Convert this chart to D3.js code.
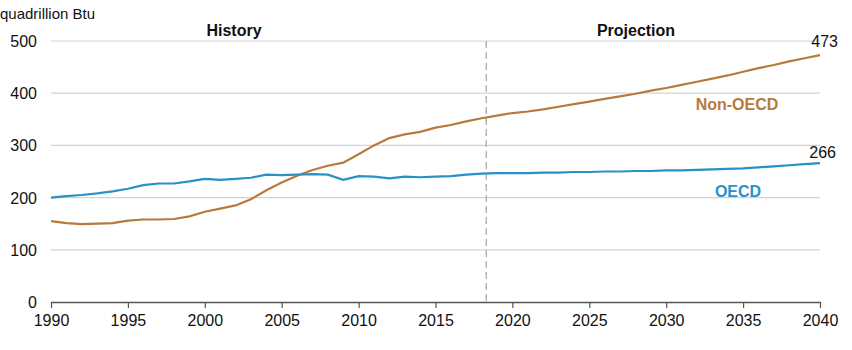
<!DOCTYPE html>
<html><head><meta charset="utf-8">
<script src="https://cdn.jsdelivr.net/npm/d3@7/dist/d3.min.js"></script>
<style>body{margin:0;background:#fff}text{font-family:"Liberation Sans",Arial,sans-serif}</style>
</head><body><svg id="c" width="852" height="350"></svg>
<script>
const years = d3.range(1990, 2041);
const oecd = [200,203,205,208,212,217,224,227,227,231,236,234,236,238,244,243,244,245,244,234,241,240,237,240,239,240,241,244,246,247,247,247,248,248,249,249,250,250,251,251,252,252,253,254,255,256,258,260,262,264,266];
const nonOecd = [155,151,149,150,151,156,158,158,159,164,173,179,185,197,214,229,242,253,261,267,283,300,314,321,326,334,339,346,352,357,362,365,369,374,379,384,389,394,399,405,410,416,422,428,434,441,448,454,461,467,473];
const yTicks = [0,100,200,300,400,500];
const xTicks = d3.range(1990, 2041, 5);
const divider = 2018.3;

const svg = d3.select("#c");
const L=51,R=820,T=41,B=302;
const x = d3.scaleLinear().domain([1990,2040]).range([L,R]);
const y = d3.scaleLinear().domain([0,500]).range([B,T]);

svg.append("g").selectAll("line").data(yTicks.filter(d=>d>0)).join("line")
  .attr("x1",L).attr("x2",R).attr("y1",d=>y(d)).attr("y2",d=>y(d))
  .attr("stroke","#d3d3d3").attr("stroke-width",1.2);

svg.append("g").selectAll("text").data(yTicks).join("text")
  .attr("x",37).attr("y",d=>y(d)+6).attr("text-anchor","end")
  .attr("font-size",16).attr("fill","#111").text(d=>d);

const xa = svg.append("g").attr("transform",`translate(0,${B})`)
  .call(d3.axisBottom(x).tickValues(xTicks).tickFormat(d3.format("d")).tickSize(6).tickSizeOuter(0).tickPadding(7));
xa.select(".domain").attr("stroke","#555").attr("stroke-width",1.5);
xa.selectAll(".tick line").attr("stroke","#555").attr("stroke-width",1.2);
xa.selectAll(".tick text").attr("font-size",16).attr("fill","#111").attr("font-family","Liberation Sans, Arial, sans-serif");

svg.append("line").attr("x1",x(divider)).attr("x2",x(divider)).attr("y1",T).attr("y2",B)
  .attr("stroke","#aaa").attr("stroke-width",1.3).attr("stroke-dasharray","7,4");

const line = d3.line().x((d,i)=>x(years[i])).y(d=>y(d));
svg.append("path").datum(nonOecd).attr("d",line).attr("fill","none").attr("stroke","#b87a3c").attr("stroke-width",2.2);
svg.append("path").datum(oecd).attr("d",line).attr("fill","none").attr("stroke","#2792c7").attr("stroke-width",2.2);

svg.append("text").attr("x",0).attr("y",19).attr("font-size",15).attr("fill","#111").text("quadrillion Btu");
svg.append("text").attr("x",234).attr("y",36).attr("text-anchor","middle").attr("font-size",16).attr("font-weight","bold").attr("fill","#111").text("History");
svg.append("text").attr("x",636).attr("y",36).attr("text-anchor","middle").attr("font-size",16).attr("font-weight","bold").attr("fill","#111").text("Projection");
svg.append("text").attr("x",x(2040)+18).attr("y",y(nonOecd[nonOecd.length-1])-8).attr("text-anchor","end").attr("font-size",16).attr("fill","#111").text(nonOecd[nonOecd.length-1]);
svg.append("text").attr("x",x(2040)+16).attr("y",y(oecd[oecd.length-1])-5).attr("text-anchor","end").attr("font-size",16).attr("fill","#111").text(oecd[oecd.length-1]);
svg.append("text").attr("x",737).attr("y",110).attr("text-anchor","middle").attr("font-size",16).attr("font-weight","bold").attr("fill","#b87a3c").text("Non-OECD");
svg.append("text").attr("x",738).attr("y",197).attr("text-anchor","middle").attr("font-size",16).attr("font-weight","bold").attr("fill","#2792c7").text("OECD");
</script></body></html>
